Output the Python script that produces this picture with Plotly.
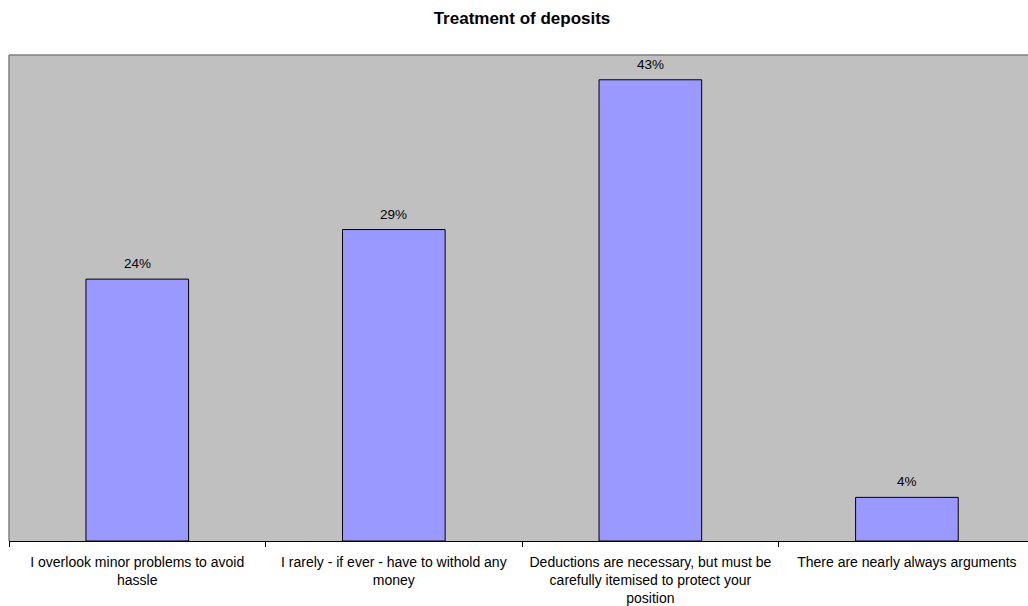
import plotly.graph_objects as go

categories = [
    "I overlook minor problems to avoid hassle",
    "I rarely - if ever - have to withold any money",
    "Deductions are necessary, but must be carefully itemised to protect your position",
    "There are nearly always arguments",
]
tick_labels = [
    "I overlook minor problems to avoid<br>hassle",
    "I rarely - if ever - have to withold any<br>money",
    "Deductions are necessary, but must be<br>carefully itemised to protect your<br>position",
    "There are nearly always arguments",
]
values = [24.3, 28.9, 42.8, 4.05]
value_labels = ["24%", "29%", "43%", "4%"]

FONT = "Liberation Sans, Arial, sans-serif"

fig = go.Figure()
fig.add_trace(go.Bar(
    x=categories,
    y=values,
    width=0.40,
    marker=dict(color="#9999FF", line=dict(color="#000000", width=1)),
    hoverinfo="skip",
))

for c, v, t in zip(categories, values, value_labels):
    fig.add_annotation(x=c, y=v, text=t, showarrow=False, yanchor="bottom",
                       yshift=6, font=dict(family=FONT, size=13.5, color="#000000"))

fig.update_layout(
    width=1028, height=606,
    margin=dict(l=8.5, r=0, t=55, b=65, pad=0),
    paper_bgcolor="#FFFFFF",
    plot_bgcolor="#C0C0C0",
    showlegend=False,
    title=dict(text="<b>Treatment of deposits</b>", x=522/1028, xref="container",
               xanchor="center", y=1-18/606, yref="container", yanchor="middle",
               font=dict(family=FONT, size=17, color="#000000")),
    font=dict(family=FONT, size=14, color="#000000"),
)
fig.update_xaxes(
    type="category",
    range=[-0.5, 3.472],
    tickmode="array", tickvals=categories, ticktext=tick_labels,
    tickson="boundaries", ticks="outside", ticklen=5, tickcolor="#000000", tickwidth=1,
    ticklabelstandoff=8,
    showline=True, linecolor="#000000", linewidth=1,
    showgrid=False, zeroline=False,
    tickfont=dict(family=FONT, size=14, color="#000000"),
)
fig.update_yaxes(
    range=[0, 45.1], showticklabels=False, showgrid=False, zeroline=False,
    showline=False, ticks="",
)
fig.add_shape(type="line", xref="paper", yref="paper", x0=0, x1=1, y0=1, y1=1,
              line=dict(color="#808080", width=1.5))
fig.add_shape(type="line", xref="paper", yref="paper", x0=0, x1=0, y0=0, y1=1,
              line=dict(color="#808080", width=1.5))

fig.write_html("out.html")
